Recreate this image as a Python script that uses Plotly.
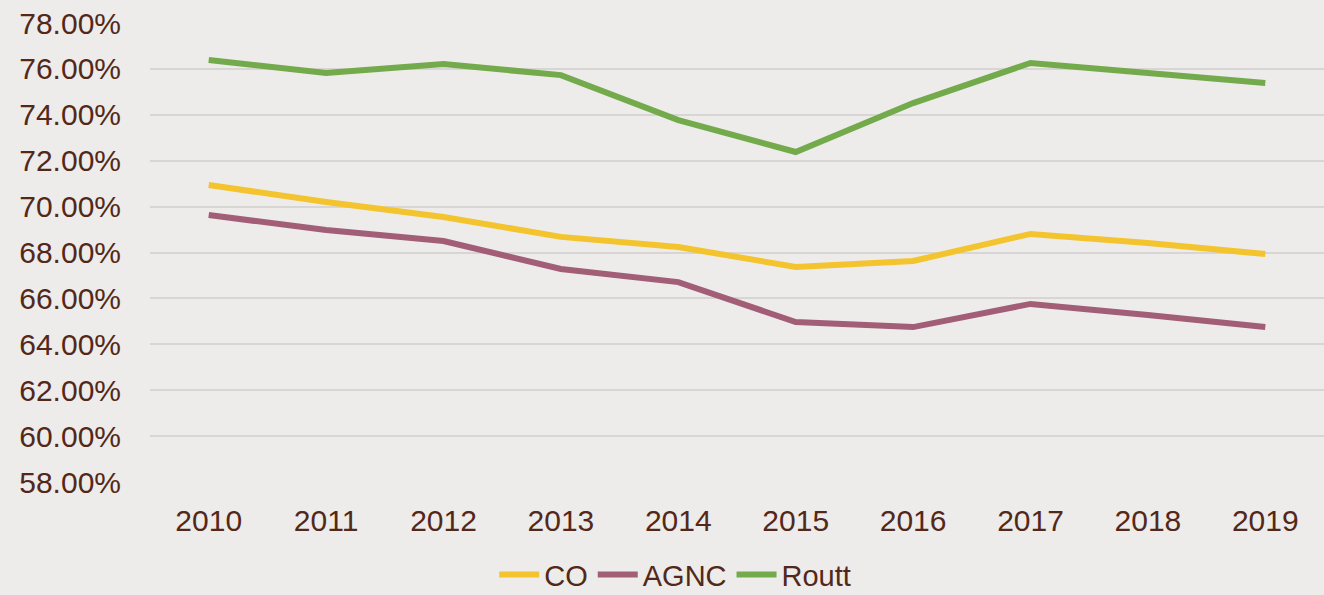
import plotly.graph_objects as go

years = ["2010", "2011", "2012", "2013", "2014", "2015", "2016", "2017", "2018", "2019"]
co = [70.94, 70.20, 69.55, 68.68, 68.24, 67.37, 67.63, 68.81, 68.41, 67.93]
agnc = [69.63, 68.98, 68.50, 67.28, 66.71, 64.97, 64.75, 65.76, 65.28, 64.75]
routt = [76.39, 75.82, 76.21, 75.73, 73.77, 72.38, 74.51, 76.26, 75.82, 75.39]
y_ticks = [58, 60, 62, 64, 66, 68, 70, 72, 74, 76, 78]

text_color = "#532819"
bg = "#edecea"
font_family = "Liberation Sans, Arial, sans-serif"

fig = go.Figure()
for name, vals, color in [("CO", co, "#f3c42d"), ("AGNC", agnc, "#a25e76"), ("Routt", routt, "#73aa4c")]:
    fig.add_trace(go.Scatter(x=years, y=vals, name=name, mode="lines",
                             line=dict(color=color, width=6)))

fig.update_layout(
    width=1324, height=595,
    paper_bgcolor=bg, plot_bgcolor=bg,
    margin=dict(l=150, r=0, t=23, b=113),
    font=dict(family=font_family, size=30, color=text_color),
    showlegend=True,
    legend=dict(orientation="h", xref="container", yref="container",
                x=0.51, xanchor="center", y=0.034, yanchor="middle",
                font=dict(size=29, color=text_color), itemwidth=40,
                bgcolor="rgba(0,0,0,0)", traceorder="normal"),
)
fig.update_xaxes(type="category", range=[-0.5, 9.5], showgrid=False, zeroline=False,
                 showline=False, ticks="", ticklabelstandoff=18,
                 tickfont=dict(size=30, color=text_color))
fig.update_yaxes(range=[58, 78], tickvals=y_ticks,
                 ticktext=[f"{v:.2f}%" for v in y_ticks],
                 showgrid=True, gridcolor="#d8d6d4", gridwidth=2, zeroline=False,
                 showline=False, ticks="", ticklabelstandoff=28,
                 tickfont=dict(size=30, color=text_color))

fig.write_html("out.html", config={"displayModeBar": False},
               post_script="document.body.style.margin='0';document.body.style.overflow='hidden';")
